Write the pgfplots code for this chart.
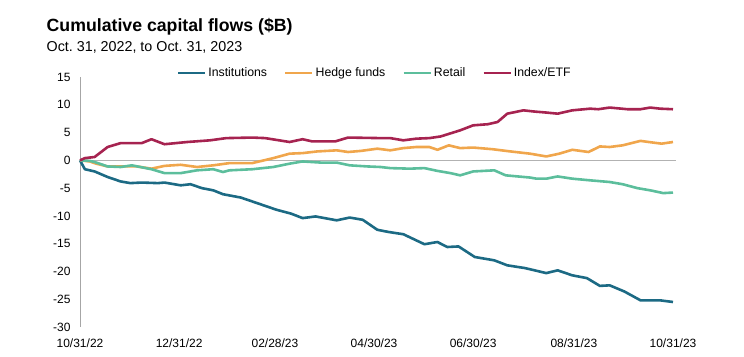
\documentclass[border=0pt]{standalone}
\usepackage{fontspec}
\setmainfont{Liberation Sans}
\usepackage{pgfplots}
\pgfplotsset{compat=1.18}
\definecolor{cInst}{HTML}{1C6A84}
\definecolor{cHedge}{HTML}{F0A64C}
\definecolor{cRetail}{HTML}{5CBE9C}
\definecolor{cIndex}{HTML}{A62350}
\begin{document}
\frenchspacing
\begin{tikzpicture}[x=1pt,y=1pt]
\useasboundingbox (0,0) rectangle (744,356);
\node[anchor=base west,inner sep=0pt,font=\fontsize{17.7}{20}\selectfont\bfseries] at (46.5,324) {Cumulative capital flows (\$B)};
\node[anchor=base west,inner sep=0pt,font=\fontsize{14.3}{17}\selectfont] at (46.5,304) {Oct. 31, 2022, to Oct. 31, 2023};
\begin{axis}[
  at={(80pt,29pt)}, anchor=south west,
  scale only axis, width=593pt, height=250pt,
  xmin=0, xmax=365, ymin=-30, ymax=15,
  axis lines=left,
  axis line style={draw=none},
  clip=false,
  ytick={-30,-25,...,15},
  xtick={0,61,120,181,242,304,365},
  xticklabels={10/31/22,12/31/22,02/28/23,04/30/23,06/30/23,08/31/23,10/31/23},
  major tick length=0pt,
  tick label style={font=\fontsize{12}{14}\selectfont},
  /pgf/number format/assume math mode=true,
  yticklabel style={anchor=east, xshift=-6pt},
  xticklabel style={anchor=north, yshift=-8pt},
  legend columns=4,
  legend style={draw=none, fill=none, at={(0.497,1.016)}, anchor=center,
    font=\fontsize{12.3}{14}\selectfont, column sep=0pt,
    /tikz/every even column/.append style={column sep=15pt}},
  legend image code/.code={\draw[#1, line width=2.5pt] (0pt,0pt) -- (27pt,0pt);},
  legend cell align=left,
  every axis plot/.append style={line width=2.6pt, line join=round},
]
\draw[gray!70, line width=0.8pt] (axis cs:0,-30) -- (axis cs:0,15);
\draw[gray!60, line width=0.8pt] (axis cs:0,0) -- (axis cs:367,0);
\addplot[cInst] coordinates {(0,0) (3,-1.6) (9,-2.0) (17,-3.0) (25,-3.8) (31,-4.1) (38,-4.0) (48,-4.1) (52,-4.0) (62,-4.5) (68,-4.3) (75,-5.0) (82,-5.4) (88,-6.1) (99,-6.7) (109,-7.7) (121,-8.9) (130,-9.6) (137,-10.4) (145,-10.1) (158,-10.8) (166,-10.3) (174,-10.7) (183,-12.5) (190,-12.9) (199,-13.3) (212,-15.1) (220,-14.7) (226,-15.6) (233,-15.5) (243,-17.4) (255,-18.0) (263,-18.9) (274,-19.4) (287,-20.3) (294,-19.8) (303,-20.7) (312,-21.2) (320,-22.6) (326,-22.5) (335,-23.6) (345,-25.2) (357,-25.2) (365,-25.5)};
\addlegendentry{Institutions}
\addplot[cHedge] coordinates {(0,0) (6,-0.2) (10,-0.6) (17,-1.1) (35,-1.1) (44,-1.5) (52,-1.0) (62,-0.8) (72,-1.2) (82,-0.9) (92,-0.5) (106,-0.5) (119,0.4) (129,1.2) (137,1.3) (146,1.6) (158,1.8) (165,1.5) (173,1.7) (183,2.1) (191,1.8) (199,2.2) (207,2.4) (215,2.4) (220,1.9) (227,2.7) (234,2.2) (242,2.3) (254,2.0) (265,1.6) (277,1.2) (287,0.7) (295,1.2) (303,1.9) (313,1.5) (320,2.5) (326,2.4) (334,2.7) (345,3.5) (350,3.3) (358,3.0) (365,3.3)};
\addlegendentry{Hedge funds}
\addplot[cRetail] coordinates {(0,0) (6,-0.1) (9,-0.3) (17,-1.1) (25,-1.2) (32,-0.9) (44,-1.6) (52,-2.3) (62,-2.3) (72,-1.8) (82,-1.6) (88,-2.1) (92,-1.8) (106,-1.6) (119,-1.2) (129,-0.6) (137,-0.2) (148,-0.4) (158,-0.4) (166,-0.9) (177,-1.1) (185,-1.2) (191,-1.4) (203,-1.5) (212,-1.4) (220,-1.9) (228,-2.3) (234,-2.7) (242,-2.0) (255,-1.8) (262,-2.7) (277,-3.1) (281,-3.3) (287,-3.3) (294,-2.9) (303,-3.3) (314,-3.6) (326,-3.9) (334,-4.3) (343,-5.0) (351,-5.4) (359,-5.9) (365,-5.8)};
\addlegendentry{Retail}
\addplot[cIndex] coordinates {(0,0) (3,0.4) (9,0.6) (17,2.4) (25,3.1) (38,3.1) (44,3.8) (52,2.9) (66,3.3) (80,3.6) (90,4.0) (106,4.1) (114,4.0) (129,3.3) (137,3.8) (143,3.4) (157,3.4) (165,4.1) (185,4.0) (191,4.0) (199,3.6) (207,3.9) (215,4.0) (222,4.3) (234,5.4) (242,6.3) (251,6.5) (257,6.9) (263,8.4) (273,9.0) (279,8.8) (287,8.6) (294,8.4) (303,9.0) (314,9.3) (319,9.2) (326,9.5) (337,9.2) (345,9.2) (351,9.5) (357,9.3) (365,9.2)};
\addlegendentry{Index/ETF}
\end{axis}
\end{tikzpicture}
\end{document}
